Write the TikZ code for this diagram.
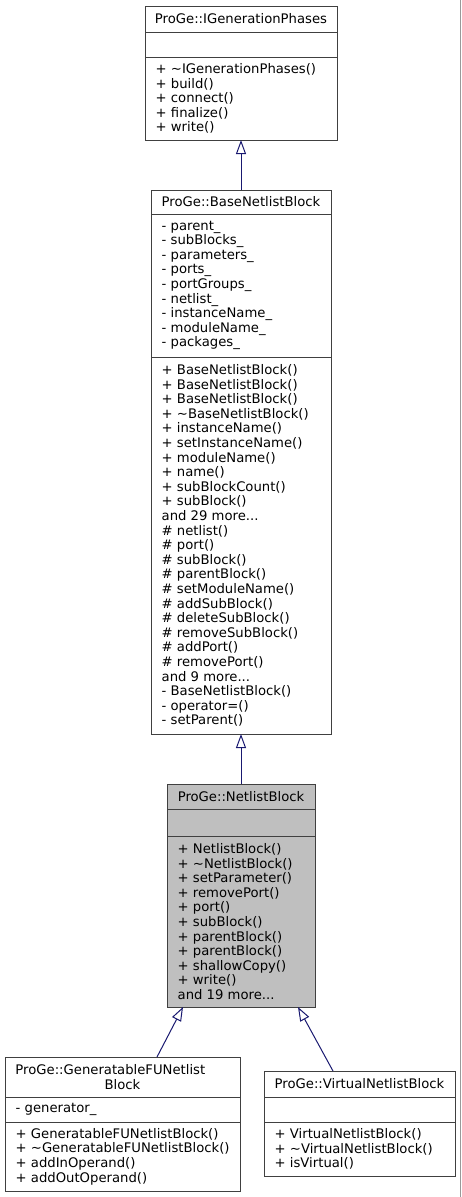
\documentclass[tikz,border=0pt]{standalone}
\usepackage{fontspec}
\setmainfont{DejaVu Sans}
\usetikzlibrary{arrows.meta,positioning}
\definecolor{boxgray}{HTML}{404040}
\definecolor{focusgray}{HTML}{BFBFBF}
\definecolor{edgeblue}{HTML}{191970}
\newcommand{\umlfont}{\fontsize{13.2pt}{14.6pt}\selectfont}
\tikzset{
	classbox/.style={draw=boxgray, fill=white, line width=1pt, outer sep=0pt, inner sep=0pt},
	focusbox/.style={classbox, fill=focusgray},
	members/.style={anchor=west, align=left, inner sep=0pt},
	inherit/.style={draw=edgeblue, line width=1pt, -{Triangle[open, length=14pt, width=10pt]}}
}

\begin{document}
\begin{tikzpicture}[x=1pt, y=1pt, font=\umlfont]
	
	\useasboundingbox (0,0) rectangle (461,-1197);
	\draw[gray!80] (460.5,0) -- (460.5,-1197);
	
	%ProGe::IGenerationPhases
	\node[classbox, minimum width=192pt, minimum height=26pt, anchor=north] (phTitle) at (241,-6) {ProGe::IGenerationPhases};
	\node[classbox, minimum width=192pt, minimum height=25pt, below=0pt of phTitle] (phAttr) {};
	\node[classbox, minimum width=192pt, minimum height=83pt, below=0pt of phAttr] (phOps) {};
	\node[members] (phOpsText) at ([xshift=10.5pt]phOps.west) {+ \textasciitilde IGenerationPhases()\\+ build()\\+ connect()\\+ finalize()\\+ write()};
	
	%ProGe::BaseNetlistBlock
	\node[classbox, minimum width=180pt, minimum height=24pt, anchor=north] (baseTitle) at (241,-190) {ProGe::BaseNetlistBlock};
	\node[classbox, minimum width=180pt, minimum height=143pt, below=0pt of baseTitle] (baseAttr) {};
	\node[members] (baseAttrText) at ([xshift=10.5pt]baseAttr.west) {- parent\_\\- subBlocks\_\\- parameters\_\\- ports\_\\- portGroups\_\\- netlist\_\\- instanceName\_\\- moduleName\_\\- packages\_};
	\node[classbox, minimum width=180pt, minimum height=377pt, below=0pt of baseAttr] (baseOps) {};
	\node[members] (baseOpsText) at ([xshift=10.5pt]baseOps.west) {+ BaseNetlistBlock()\\+ BaseNetlistBlock()\\+ BaseNetlistBlock()\\+ \textasciitilde BaseNetlistBlock()\\+ instanceName()\\+ setInstanceName()\\+ moduleName()\\+ name()\\+ subBlockCount()\\+ subBlock()\\and 29 more...\\\# netlist()\\\# port()\\\# subBlock()\\\# parentBlock()\\\# setModuleName()\\\# addSubBlock()\\\# deleteSubBlock()\\\# removeSubBlock()\\\# addPort()\\\# removePort()\\and 9 more...\\- BaseNetlistBlock()\\- operator=()\\- setParent()};
	
	%ProGe::NetlistBlock
	\node[focusbox, minimum width=148pt, minimum height=25pt, anchor=north] (nlTitle) at (241,-784) {ProGe::NetlistBlock};
	\node[focusbox, minimum width=148pt, minimum height=27pt, below=0pt of nlTitle] (nlAttr) {};
	\node[focusbox, minimum width=148pt, minimum height=171pt, below=0pt of nlAttr] (nlOps) {};
	\node[members] (nlOpsText) at ([xshift=10.5pt]nlOps.west) {+ NetlistBlock()\\+ \textasciitilde NetlistBlock()\\+ setParameter()\\+ removePort()\\+ port()\\+ subBlock()\\+ parentBlock()\\+ parentBlock()\\+ shallowCopy()\\+ write()\\and 19 more...};
	
	%ProGe::GeneratableFUNetlistBlock
	\node[classbox, text width=214pt, inner xsep=10.5pt, minimum height=40pt, anchor=north] (genTitle) at (122.5,-1057) {\raggedright ProGe::GeneratableFUNetlist\par\centering Block\par};
	\node[classbox, minimum width=235pt, minimum height=25pt, below=0pt of genTitle] (genAttr) {};
	\node[members] (genAttrText) at ([xshift=10.5pt]genAttr.west) {- generator\_};
	\node[classbox, minimum width=235pt, minimum height=69pt, below=0pt of genAttr] (genOps) {};
	\node[members] (genOpsText) at ([xshift=10.5pt]genOps.west) {+ GeneratableFUNetlistBlock()\\+ \textasciitilde GeneratableFUNetlistBlock()\\+ addInOperand()\\+ addOutOperand()};
	
	%ProGe::VirtualNetlistBlock
	\node[classbox, minimum width=191pt, minimum height=26pt, anchor=north] (virtTitle) at (359.5,-1071) {ProGe::VirtualNetlistBlock};
	\node[classbox, minimum width=191pt, minimum height=25pt, below=0pt of virtTitle] (virtAttr) {};
	\node[classbox, minimum width=191pt, minimum height=54pt, below=0pt of virtAttr] (virtOps) {};
	\node[members] (virtOpsText) at ([xshift=10.5pt]virtOps.west) {+ VirtualNetlistBlock()\\+ \textasciitilde VirtualNetlistBlock()\\+ isVirtual()};
	
	%inheritance
	\draw[inherit] (baseTitle.north) -- (phOps.south);
	\draw[inherit] (nlTitle.north) -- (baseOps.south);
	\draw[inherit] ([xshift=34.5pt]genTitle.north) -- ([xshift=-58pt]nlOps.south);
	\draw[inherit] ([xshift=-26.5pt]virtTitle.north) -- ([xshift=57pt]nlOps.south);
	
\end{tikzpicture}
\end{document}
